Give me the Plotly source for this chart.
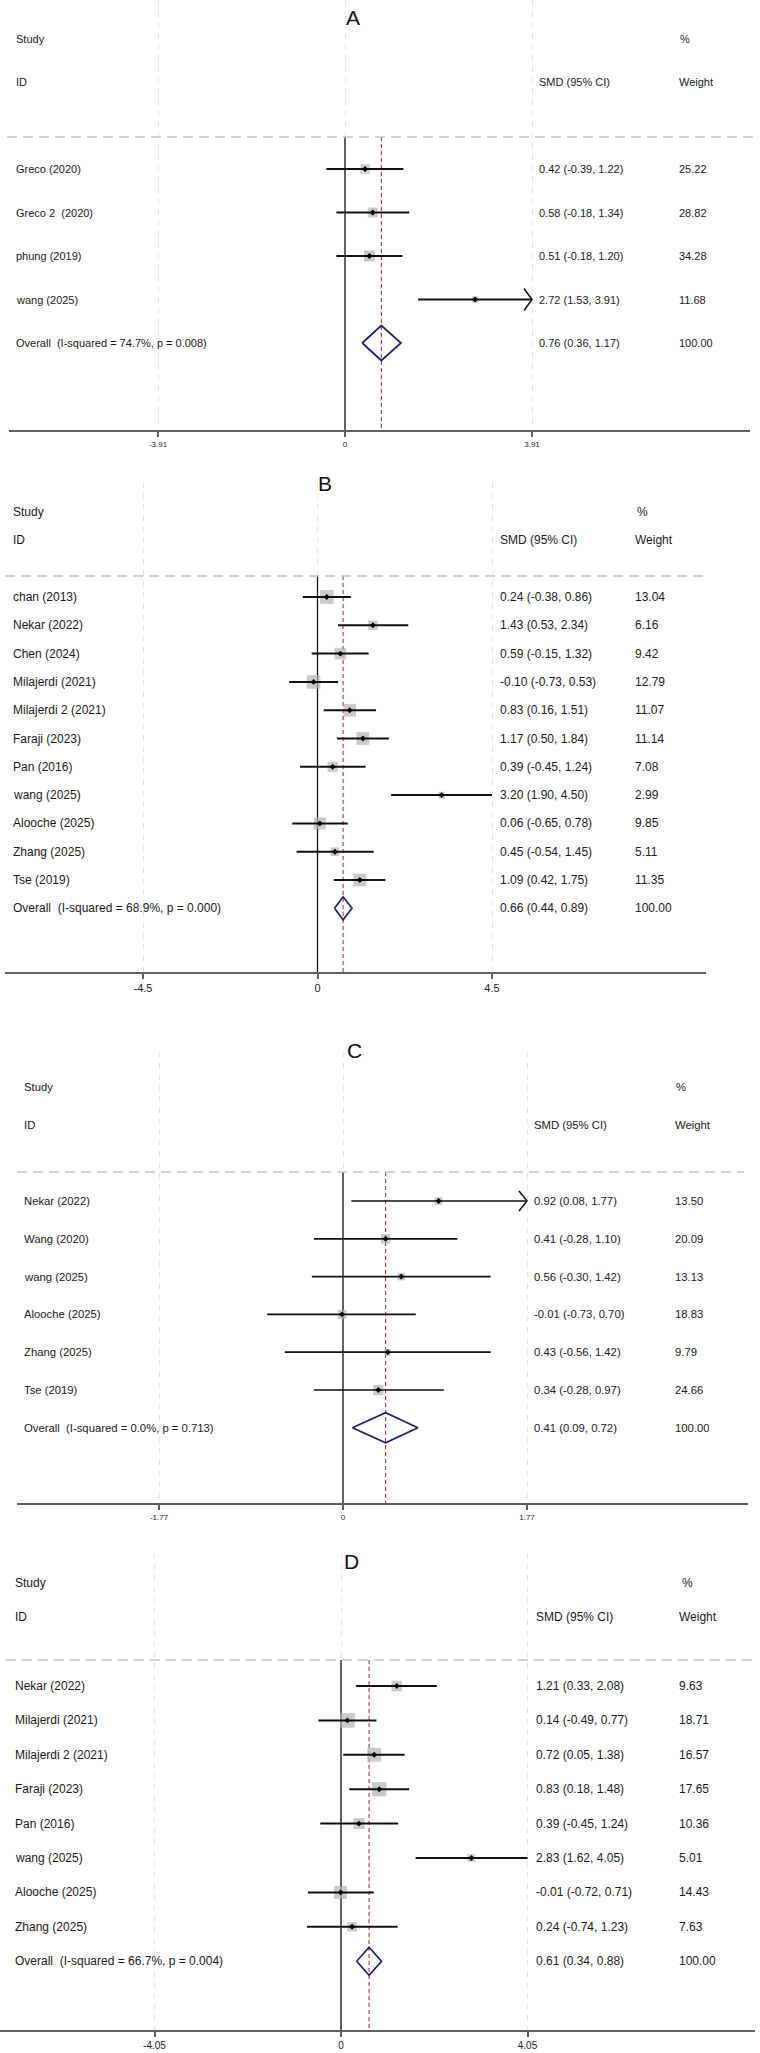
import math
import plotly.graph_objects as go

W, H = 760, 2053

# ---------------- data ----------------
A_study = ["Greco (2020)", "Greco 2\u00a0 (2020)", "phung (2019)", "wang (2025)"]
A_est = [0.42, 0.58, 0.51, 2.72]
A_lo = [-0.39, -0.18, -0.18, 1.53]
A_hi = [1.22, 1.34, 1.20, 3.91]
A_w = [25.22, 28.82, 34.28, 11.68]
A_arrow = [False, False, False, True]
A_overall = [0.76, 0.36, 1.17]
A_het = ["74.7%", "0.008"]
A_tick = 3.91
A_ticktext = ["-3.91", "0", "3.91"]

B_study = ["chan (2013)", "Nekar (2022)", "Chen (2024)", "Milajerdi (2021)", "Milajerdi 2 (2021)",
           "Faraji (2023)", "Pan (2016)", "wang (2025)", "Alooche (2025)", "Zhang (2025)", "Tse (2019)"]
B_est = [0.24, 1.43, 0.59, -0.10, 0.83, 1.17, 0.39, 3.20, 0.06, 0.45, 1.09]
B_lo = [-0.38, 0.53, -0.15, -0.73, 0.16, 0.50, -0.45, 1.90, -0.65, -0.54, 0.42]
B_hi = [0.86, 2.34, 1.32, 0.53, 1.51, 1.84, 1.24, 4.50, 0.78, 1.45, 1.75]
B_w = [13.04, 6.16, 9.42, 12.79, 11.07, 11.14, 7.08, 2.99, 9.85, 5.11, 11.35]
B_arrow = [False] * 11
B_overall = [0.66, 0.44, 0.89]
B_het = ["68.9%", "0.000"]
B_tick = 4.5
B_ticktext = ["-4.5", "0", "4.5"]

C_study = ["Nekar (2022)", "Wang (2020)", "wang (2025)", "Alooche (2025)", "Zhang (2025)", "Tse (2019)"]
C_est = [0.92, 0.41, 0.56, -0.01, 0.43, 0.34]
C_lo = [0.08, -0.28, -0.30, -0.73, -0.56, -0.28]
C_hi = [1.77, 1.10, 1.42, 0.70, 1.42, 0.97]
C_w = [13.50, 20.09, 13.13, 18.83, 9.79, 24.66]
C_arrow = [True, False, False, False, False, False]
C_overall = [0.41, 0.09, 0.72]
C_het = ["0.0%", "0.713"]
C_tick = 1.77
C_ticktext = ["-1.77", "0", "1.77"]

D_study = ["Nekar (2022)", "Milajerdi (2021)", "Milajerdi 2 (2021)", "Faraji (2023)", "Pan (2016)",
           "wang (2025)", "Alooche (2025)", "Zhang (2025)"]
D_est = [1.21, 0.14, 0.72, 0.83, 0.39, 2.83, -0.01, 0.24]
D_lo = [0.33, -0.49, 0.05, 0.18, -0.45, 1.62, -0.72, -0.74]
D_hi = [2.08, 0.77, 1.38, 1.48, 1.24, 4.05, 0.71, 1.23]
D_w = [9.63, 18.71, 16.57, 17.65, 10.36, 5.01, 14.43, 7.63]
D_arrow = [False] * 8
D_overall = [0.61, 0.34, 0.88]
D_het = ["66.7%", "0.004"]
D_tick = 4.05
D_ticktext = ["-4.05", "0", "4.05"]

# ---------------- layout geometry (pixels) ----------------
GEO = {
    "A": dict(top=0, title_x=353, title_y=17, study_y=39, id_y=82, hline_y=137, hline_x=(7, 754),
              row1=169, sp=43.5, axis_y=430, axis_x=(9, 750), zero_x=345, tick_px=532,
              col_label=15, col_smd=538, col_w=678, col_pct=679, font=11, tickfont=8,
              box_k=1.85, dia_half=17.5, ci_w=2.0, arrow_dx=8, arrow_dy=11),
    "B": dict(top=482, title_x=325, title_y=483, study_y=512, id_y=540, hline_y=576, hline_x=(5, 708),
              row1=597, sp=28.3, axis_y=972, axis_x=(5, 706), zero_x=317.5, tick_px=492,
              col_label=12, col_smd=499, col_w=634, col_pct=636, font=12, tickfont=11,
              box_k=3.8, dia_half=11.5, ci_w=2.0, arrow_dx=8, arrow_dy=10),
    "C": dict(top=1052, title_x=354, title_y=1050, study_y=1087, id_y=1125, hline_y=1172, hline_x=(17, 744),
              row1=1201, sp=37.8, axis_y=1503, axis_x=(17, 748), zero_x=343, tick_px=527,
              col_label=23, col_smd=533, col_w=674, col_pct=675, font=11.3, tickfont=8,
              box_k=2.1, dia_half=15, ci_w=1.7, arrow_dx=8, arrow_dy=10),
    "D": dict(top=1553, title_x=351, title_y=1561, study_y=1583, id_y=1617, hline_y=1660, hline_x=(6, 756),
              row1=1686, sp=34.4, axis_y=2030, axis_x=(0, 755), zero_x=341, tick_px=527.5,
              col_label=13.5, col_smd=535, col_w=678, col_pct=681, font=12, tickfont=10,
              box_k=3.4, dia_half=14, ci_w=2.0, arrow_dx=8, arrow_dy=10),
}

panels = [
    ("A", A_study, A_est, A_lo, A_hi, A_w, A_arrow, A_overall, A_het, A_tick, A_ticktext),
    ("B", B_study, B_est, B_lo, B_hi, B_w, B_arrow, B_overall, B_het, B_tick, B_ticktext),
    ("C", C_study, C_est, C_lo, C_hi, C_w, C_arrow, C_overall, C_het, C_tick, C_ticktext),
    ("D", D_study, D_est, D_lo, D_hi, D_w, D_arrow, D_overall, D_het, D_tick, D_ticktext),
]

FONT = "Liberation Sans, Arial, sans-serif"
TXT = "#1a1a1a"
AX_COL = "#5f5f5f"
GRID = "#e4e4e4"
BOX_COL = "#b3b3b3"
OV_COL = "#9c3b3b"
DIA_COL = "#1f1f6e"

fig = go.Figure()
annotations = []
shapes = []
axes = {}

for k, (name, study, est, lo, hi, w, arrow, ov, het, tick, ticktext) in enumerate(panels):
    g = GEO[name]
    sfx = "" if k == 0 else str(k + 1)
    xa, ya = "x" + sfx, "y" + sfx
    ppu = (g["tick_px"] - g["zero_x"]) / tick

    def px2x(px, g=g, ppu=ppu):
        return (px - g["zero_x"]) / ppu

    def row_of(py, g=g):
        return 1 + (py - g["row1"]) / g["sp"]

    n = len(study)
    rows = list(range(1, n + 1))
    ov_row = n + 1
    y_bot = row_of(g["axis_y"])
    y_top = row_of(g["top"])
    y_hl = row_of(g["hline_y"])

    axes["xaxis" + sfx] = dict(
        domain=[g["axis_x"][0] / W, g["axis_x"][1] / W],
        range=[px2x(g["axis_x"][0]), px2x(g["axis_x"][1])],
        anchor=ya, tickvals=[-tick, 0, tick], ticktext=ticktext,
        ticks="outside", ticklen=5, tickwidth=1.5, tickcolor=AX_COL,
        showline=True, linecolor=AX_COL, linewidth=2,
        showgrid=True, gridcolor=GRID, griddash="6px,5px", gridwidth=1,
        zeroline=False, tickfont=dict(size=g["tickfont"], color=TXT, family=FONT),
        fixedrange=True,
    )
    axes["yaxis" + sfx] = dict(
        domain=[1 - g["axis_y"] / H, min(1.0, 1 - g["top"] / H)],
        range=[y_bot, y_top], anchor=xa, visible=False, fixedrange=True,
    )

    # zero line and overall dashed line
    fig.add_trace(go.Scatter(x=[0, 0], y=[y_hl, y_bot], mode="lines", xaxis=xa, yaxis=ya,
                             line=dict(color="#111111", width=1.3), showlegend=False, hoverinfo="skip"))
    fig.add_trace(go.Scatter(x=[ov[0], ov[0]], y=[y_hl, y_bot], mode="lines", xaxis=xa, yaxis=ya,
                             line=dict(color=OV_COL, width=1.1, dash="4px,3px"), showlegend=False, hoverinfo="skip"))

    # weight boxes
    fig.add_trace(go.Scatter(x=est, y=rows, mode="markers", xaxis=xa, yaxis=ya,
                             marker=dict(symbol="square", size=[g["box_k"] * math.sqrt(v) for v in w],
                                         color=BOX_COL, line=dict(width=0)),
                             showlegend=False, hoverinfo="skip"))

    # CI lines
    cx, cy = [], []
    for r, a, b in zip(rows, lo, hi):
        cx += [a, min(b, tick), None]
        cy += [r, r, None]
    fig.add_trace(go.Scatter(x=cx, y=cy, mode="lines", xaxis=xa, yaxis=ya,
                             line=dict(color="#111111", width=g["ci_w"]), showlegend=False, hoverinfo="skip"))

    # arrow heads for truncated intervals
    axx, ayy = [], []
    for r, b, f in zip(rows, hi, arrow):
        if f:
            tip = min(b, tick)
            dx = g["arrow_dx"] / ppu
            dy = g["arrow_dy"] / g["sp"]
            axx += [tip - dx, tip, tip - dx, None]
            ayy += [r - dy, r, r + dy, None]
    if axx:
        fig.add_trace(go.Scatter(x=axx, y=ayy, mode="lines", xaxis=xa, yaxis=ya,
                                 line=dict(color="#111111", width=1.5), showlegend=False, hoverinfo="skip"))

    # point estimates
    fig.add_trace(go.Scatter(x=est, y=rows, mode="markers", xaxis=xa, yaxis=ya,
                             marker=dict(symbol="diamond", size=4.5, color="#000000", line=dict(width=0)),
                             showlegend=False, hoverinfo="skip"))

    # overall diamond
    h = g["dia_half"] / g["sp"]
    fig.add_trace(go.Scatter(x=[ov[1], ov[0], ov[2], ov[0], ov[1]],
                             y=[ov_row, ov_row - h, ov_row, ov_row + h, ov_row],
                             mode="lines", xaxis=xa, yaxis=ya,
                             line=dict(color=DIA_COL, width=1.7), showlegend=False, hoverinfo="skip"))

    # header separator
    shapes.append(dict(type="line", xref="paper", yref=ya, x0=g["hline_x"][0] / W, x1=g["hline_x"][1] / W,
                       y0=y_hl, y1=y_hl, line=dict(color="#c4c4c4", width=1.4, dash="10px,6px")))

    fnt = dict(family=FONT, size=g["font"], color=TXT)

    def txt(xpx, yv, s, fnt=fnt, ya=ya):
        annotations.append(dict(xref="paper", yref=ya, x=xpx / W, y=yv, text=s, showarrow=False,
                                xanchor="left", yanchor="middle", font=fnt, borderpad=0))

    # headers
    txt(g["col_label"], row_of(g["study_y"]), "Study")
    txt(g["col_pct"], row_of(g["study_y"]), "%")
    txt(g["col_label"], row_of(g["id_y"]), "ID")
    txt(g["col_smd"], row_of(g["id_y"]), "SMD (95% CI)")
    txt(g["col_w"], row_of(g["id_y"]), "Weight")

    # study rows
    for r, s, e, a, b, ww in zip(rows, study, est, lo, hi, w):
        txt(g["col_label"], r, s)
        txt(g["col_smd"], r, f"{e:.2f} ({a:.2f}, {b:.2f})")
        txt(g["col_w"], r, f"{ww:.2f}")
    txt(g["col_label"], ov_row, f"Overall\u00a0 (I-squared = {het[0]}, p = {het[1]})")
    txt(g["col_smd"], ov_row, f"{ov[0]:.2f} ({ov[1]:.2f}, {ov[2]:.2f})")
    txt(g["col_w"], ov_row, "100.00")

    # panel letter
    annotations.append(dict(xref="paper", yref="paper", x=g["title_x"] / W, y=1 - g["title_y"] / H,
                            text=name, showarrow=False, xanchor="center", yanchor="middle",
                            font=dict(family=FONT, size=21, color="#111111")))

fig.update_layout(
    width=W, height=H, margin=dict(l=0, r=0, t=0, b=0),
    paper_bgcolor="white", plot_bgcolor="white",
    showlegend=False, annotations=annotations, shapes=shapes,
    **axes,
)

fig.write_html("out.html")
